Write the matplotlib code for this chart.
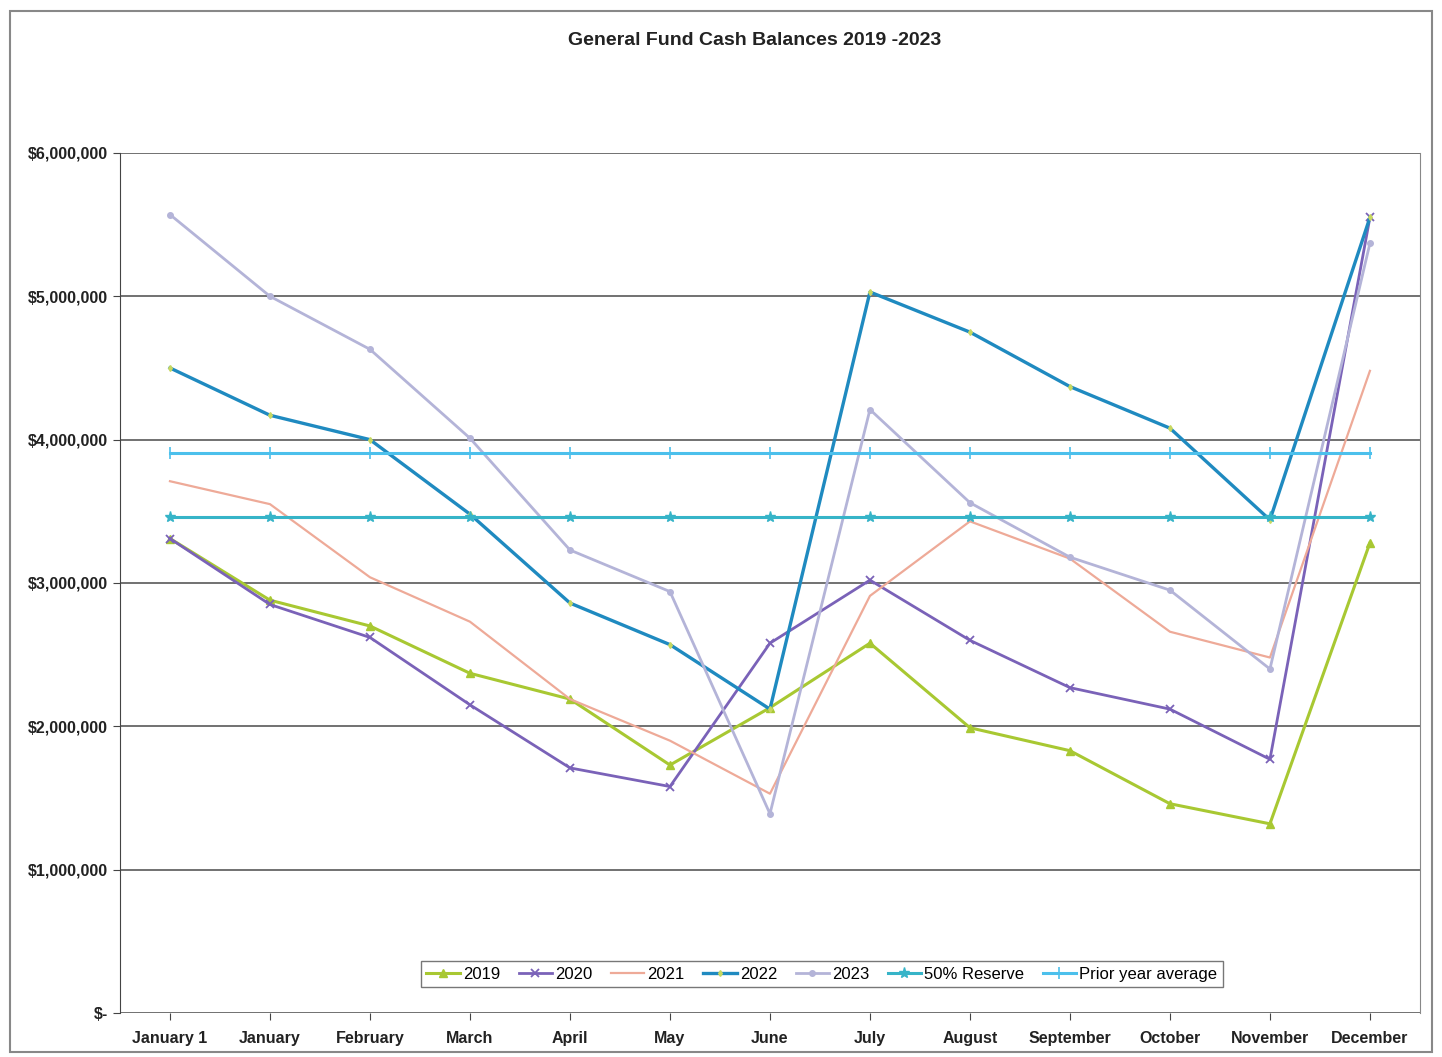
import matplotlib.pyplot as plt
from matplotlib.patches import Rectangle
from matplotlib.ticker import FuncFormatter

plt.rcParams["font.family"] = ["Liberation Sans", "DejaVu Sans"]

months = ["January 1", "January", "February", "March", "April", "May", "June",
          "July", "August", "September", "October", "November", "December"]

fy2019 = [3310000, 2880000, 2700000, 2370000, 2190000, 1730000, 2130000,
          2580000, 1990000, 1830000, 1460000, 1320000, 3280000]
fy2020 = [3310000, 2850000, 2620000, 2150000, 1710000, 1580000, 2580000,
          3020000, 2600000, 2270000, 2120000, 1770000, 5550000]
fy2021 = [3710000, 3550000, 3040000, 2730000, 2190000, 1900000, 1530000,
          2910000, 3430000, 3170000, 2660000, 2480000, 4480000]
fy2022 = [4500000, 4170000, 4000000, 3480000, 2860000, 2570000, 2120000,
          5030000, 4750000, 4370000, 4080000, 3440000, 5550000]
fy2023 = [5570000, 5000000, 4630000, 4010000, 3230000, 2940000, 1390000,
          4210000, 3560000, 3180000, 2950000, 2400000, 5370000]
reserve_50 = [3460000] * 13
prior_avg = [3910000] * 13

fig = plt.figure(figsize=(14.42, 10.57), dpi=100)
ax = fig.add_axes([0.0832, 0.0416, 0.9015, 0.8137])

x = list(range(len(months)))
ax.plot(x, fy2019, color="#a8c832", lw=2.2, marker="^", ms=6, label="2019")
ax.plot(x, fy2020, color="#7a62b8", lw=2.0, marker="x", ms=6, mew=1.3, label="2020")
ax.plot(x, fy2021, color="#eeaa98", lw=1.6, label="2021")
ax.plot(x, fy2022, color="#1f8ac0", lw=2.4, marker="d", ms=3, mfc="#c8d860",
        mec="#c8d860", label="2022")
ax.plot(x, fy2023, color="#b4b4d8", lw=2.0, marker="o", ms=4, label="2023")
ax.plot(x, reserve_50, color="#36b4c8", lw=2.2, marker="*", ms=8, label="50% Reserve")
ax.plot(x, prior_avg, color="#4cc0ec", lw=2.2, marker="|", ms=9, mew=1.2,
        label="Prior year average")

ax.set_xlim(-0.5, 12.5)
ax.set_ylim(0, 6000000)
ax.set_yticks(range(0, 6000001, 1000000))
ax.yaxis.set_major_formatter(FuncFormatter(
    lambda v, p: "$-" if v == 0 else f"${v:,.0f}"))
ax.set_xticks(x)
ax.set_xticklabels(months)
ax.tick_params(axis="both", labelsize=11.5, length=5, color="#444444")
ax.tick_params(axis="x", pad=8)
for lbl in ax.get_xticklabels() + ax.get_yticklabels():
    lbl.set_fontweight("bold")
    lbl.set_color("#222222")
ax.grid(axis="y", color="#666666", lw=1.3)
ax.set_axisbelow(True)
for side in ["top", "bottom"]:
    ax.spines[side].set_visible(False)
ax.spines["left"].set_color("#444444")
ax.spines["right"].set_color("#888888")

leg = ax.legend(loc="lower center", ncol=7, bbox_to_anchor=(0.54, 0.02),
                fontsize=12, frameon=True, fancybox=False, handlelength=2.0,
                handletextpad=0.2, columnspacing=1.1, borderpad=0.35)
leg.get_frame().set_edgecolor("#555555")
leg.get_frame().set_linewidth(1.0)

fig.text(0.523, 0.962, "General Fund Cash Balances 2019 -2023", ha="center",
         va="center", fontsize=14, fontweight="bold", color="#222222")

fig.patches.append(Rectangle((0.007, 0.005), 0.986, 0.985, transform=fig.transFigure,
                             fill=False, edgecolor="#888888", lw=1.5))

fig.savefig("out.png", dpi=100)
